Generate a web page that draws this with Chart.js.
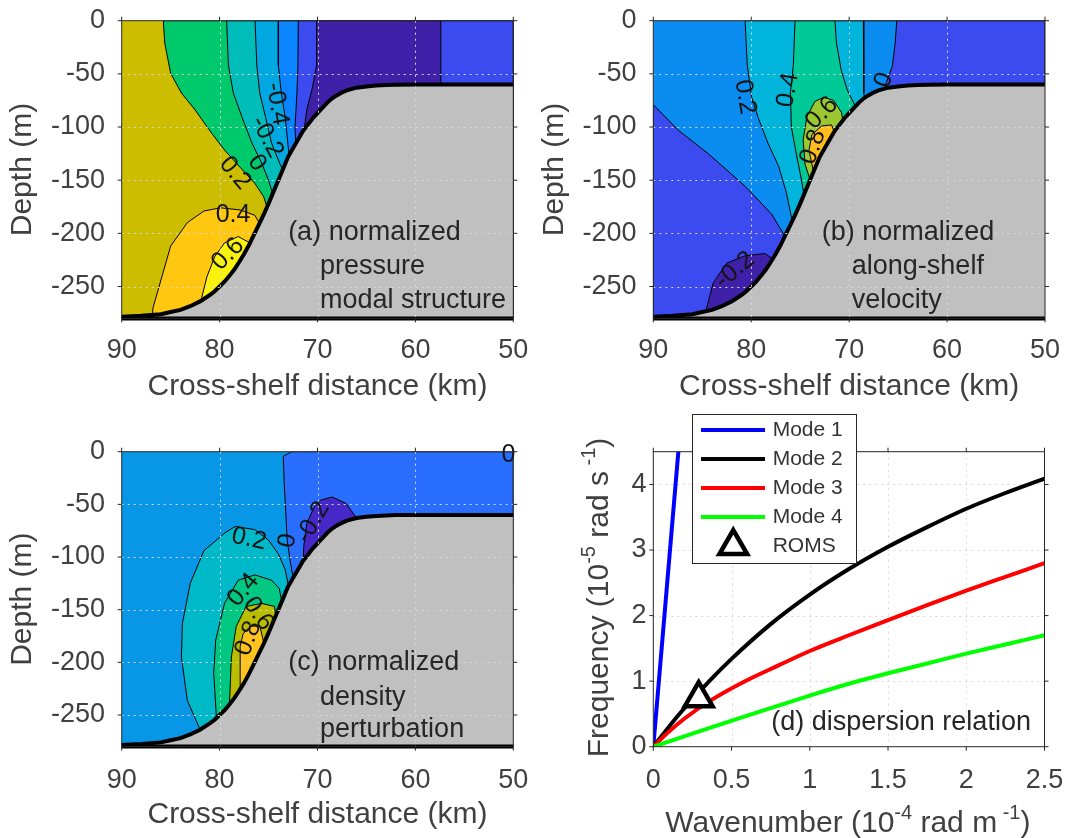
<!DOCTYPE html>
<html>
<head>
<meta charset="utf-8">
<title>Shelf wave modal structure</title>
<script src="https://cdn.jsdelivr.net/npm/chart.js@4.4.1/dist/chart.umd.min.js"></script>
<style>
  html, body { margin: 0; padding: 0; background: #ffffff; }
  #figure { position: relative; width: 1065px; height: 838px; overflow: hidden; }
  #figure canvas { position: absolute; }
</style>
</head>
<body>
<div id="figure">
  <canvas id="pressureChart" width="530" height="415" style="left:0;top:0"></canvas>
  <canvas id="velocityChart" width="535" height="415" style="left:530px;top:0"></canvas>
  <canvas id="densityChart" width="530" height="438" style="left:0;top:400px"></canvas>
  <canvas id="dispersionChart" width="535" height="438" style="left:530px;top:400px"></canvas>
</div>
<script>
// ---- axis ticks ----
const distTicks = [90, 80, 70, 60, 50];
const depthTicks = [0, -50, -100, -150, -200, -250];
const waveTicks = [0, 0.5, 1, 1.5, 2, 2.5];
const freqTicks = [0, 1, 2, 3, 4];

// ---- bathymetry, km offshore vs depth (m) ----
const shelfKm = [90, 88, 86, 85, 84, 83, 82, 81, 80.5, 80, 79.5, 79, 78.5, 78, 77.5, 77, 76.5, 76, 75.5, 75,
  74.5, 74, 73.5, 73, 72.5, 72, 71.5, 71, 70.5, 70, 69.5, 69, 68.5, 68, 67.5, 67, 66, 65, 64, 63, 62, 60, 50];
const shelfDepth = [-278.5, -277.5, -276, -274, -272, -268.5, -264, -258, -254.5, -250, -245.5, -240, -234, -227,
  -219.5, -211, -201.5, -192, -182.5, -172, -161, -150, -139, -128, -120, -112, -104, -98, -92, -87, -82, -77,
  -73, -70, -67.5, -65.5, -63, -61.8, -61, -60.5, -60.2, -60, -60];
const bottomKm = [90, 50];
const bottomDepth = [-280, -280];

// ---- (a) pressure: filled contour outlines [km, depth] ----
const pressOlive = [[90, 0], [50, 0], [50, -280], [90, -280]];
const pressGreen = [[85.75, 0], [85.6, -21], [85.0, -49.5], [83.9, -68], [82.5, -84], [80.8, -106], [79.5, -121.6],
  [77.7, -140], [76.4, -153], [75.5, -165.5], [75.0, -180], [74.5, -195], [50, -280], [50, 0]];
const pressTeal = [[79.28, 0], [79.1, -42], [78.6, -68], [77.7, -91], [76.7, -115], [75.7, -134], [75.0, -150],
  [74.5, -165], [74.0, -178], [50, -280], [50, 0]];
const pressSky = [[76.38, 0], [76.2, -42], [75.9, -68], [75.3, -91], [74.7, -115], [74.0, -131], [73.5, -142],
  [73.0, -160], [50, -280], [50, 0]];
const pressBlue = [[74.0, 0], [74.0, -42], [73.7, -68], [73.3, -91], [73.0, -118], [72.8, -135], [50, -280], [50, 0]];
const pressViolet = [[71.96, 0], [72.0, -42], [72.1, -68], [72.3, -100], [72.2, -120], [50, -280], [50, 0]];
const pressPurple = [[70.1, 0], [70.1, -42], [70.5, -62], [71.1, -84], [71.3, -98], [71.2, -115], [57.4, -115], [57.4, 0]];
const pressOrange = [[86.9, -280], [86.8, -270], [85.9, -241], [85.0, -212], [83.3, -190], [81.6, -179], [79.9, -176],
  [77.9, -178], [76.4, -183], [75.6, -196], [78.0, -245], [80, -280]];
const pressYellow = [[82.0, -267], [81.3, -241], [80.5, -222], [79.5, -209], [78.1, -203], [76.9, -209], [76.5, -222],
  [78.5, -250], [80.5, -266]];

// ---- (b) along-shelf velocity ----
const velBase = [[90, 0], [50, 0], [50, -280], [90, -280]];
const velDeep = [[90, -79], [87.45, -103], [84.4, -125], [80.6, -156], [77.9, -182], [76.75, -200], [76.0, -215],
  [80, -280], [90, -280]];
const velCyan = [[80.63, 0], [80.4, -42], [79.95, -72], [79.3, -91], [78.3, -115], [77.2, -137], [76.4, -162],
  [76.0, -180], [75.6, -200], [50, -280], [50, 0]];
const velGreen = [[75.53, 0], [75.7, -42], [76.0, -68], [75.9, -100], [75.4, -125], [74.8, -153], [74.5, -172],
  [69.0, -95], [69.5, -78], [70.2, -65], [70.8, -47], [71.3, -21], [71.45, 0]];
const velShelfBlue = [[68.55, 0], [68.5, -40], [68.5, -68], [68.3, -85], [50, -85], [50, 0]];
const velShelfViolet = [[65.14, 0], [65.3, -21], [65.6, -43], [66.2, -58], [66.7, -72], [50, -72], [50, 0]];
const velLime = [[73.8, -155], [74.5, -135], [74.7, -112], [74.3, -90], [73.5, -76], [72.6, -72], [71.6, -75],
  [70.8, -86], [70.5, -100]];
const velOrange = [[73.5, -148], [74.1, -122], [73.8, -107], [72.8, -99], [71.8, -98], [71.3, -110]];
const velPurple = [[85.0, -280], [84.6, -272], [83.9, -247], [82.5, -228], [80.6, -221], [78.6, -219], [77.5, -226],
  [80, -262]];

// ---- (c) density perturbation ----
const densBase = [[90, 0], [50, 0], [50, -280], [90, -280]];
const densShelf = [[72.64, 0], [73.5, -4.4], [73.4, -30], [73.3, -47], [73.1, -84], [72.8, -103], [72.4, -125],
  [50, -125], [50, 0]];
const densPurple = [[71.5, -112], [71.4, -90], [71.1, -68], [70.3, -52], [69.7, -46], [68.5, -43], [67.1, -49],
  [66.0, -63], [65.5, -70]];
const densTeal = [[81.8, -268], [83.3, -236], [83.9, -195], [83.8, -163], [83.0, -125], [81.6, -94], [79.45, -77],
  [78.4, -71], [76.4, -74], [75.0, -84], [74.0, -97], [73.3, -112], [73.0, -126], [72.8, -140], [77.0, -230], [79.5, -255]];
const densGreen = [[80.3, -256], [80.6, -210], [80.4, -179], [79.5, -144], [78.1, -122], [76.4, -117], [74.7, -122],
  [73.9, -130], [73.6, -145], [77.0, -225], [79.3, -250]];
const densOlive = [[79.0, -243], [78.8, -195], [78.3, -166], [77.3, -147], [75.7, -144], [74.4, -147], [74.2, -160],
  [77.0, -222]];
const densOrange = [[77.9, -232], [77.9, -185], [77.6, -173], [76.9, -166], [75.9, -165], [75.4, -185], [76.6, -212]];

// ---- (d) dispersion curves, 1e-4 rad/m vs 1e-5 rad/s ----
const k1 = [0, 0.18];
const f1 = [0, 5.06];
const k2 = [0, 0.16, 0.37, 0.5, 0.75, 1.0, 1.25, 1.5, 1.75, 2.0, 2.25, 2.5];
const f2 = [0, 0.48, 1.03, 1.34, 1.87, 2.32, 2.71, 3.05, 3.35, 3.63, 3.87, 4.09];
const k3 = [0, 0.1, 0.2, 0.37, 0.58, 0.8, 1.0, 1.25, 1.5, 1.75, 2.0, 2.25, 2.5];
const f3 = [0, 0.23, 0.43, 0.71, 0.99, 1.24, 1.46, 1.70, 1.93, 2.16, 2.38, 2.59, 2.80];
const k4 = [0, 0.25, 0.58, 1.0, 1.25, 1.5, 1.75, 2.0, 2.25, 2.5];
const f4 = [0, 0.2, 0.46, 0.78, 0.96, 1.12, 1.27, 1.42, 1.56, 1.70];
const kRoms = [0.29];
const fRoms = [0.74];

// ---- styling ----
const FONT = "'Liberation Sans', Arial, Helvetica, sans-serif";
const AXIS_TEXT = '#404040';
const NOTE_TEXT = '#262626';
const GRID_COLOR = '#d9d9d9';
const FRAME_COLOR = '#262626';
const SEABED = '#c0c0c0';

Chart.defaults.font.family = FONT;

function toXY(pts) {
    return pts.map(p => ({ x: p[0], y: p[1] }));
}

function region(pts, color, edge) {
    return {
        data: toXY(pts.concat([pts[0]])),
        showLine: true,
        fill: 'shape',
        backgroundColor: color,
        borderColor: '#000000',
        borderWidth: edge,
        pointRadius: 0,
        clip: 0
    };
}

function drawGrid(chart) {
    const { ctx, chartArea: a, scales } = chart;
    ctx.save();
    ctx.strokeStyle = GRID_COLOR;
    ctx.lineWidth = 1;
    ctx.setLineDash([2, 4]);
    ctx.beginPath();
    for (const t of scales.x.ticks) {
        const px = Math.round(scales.x.getPixelForValue(t.value)) + 0.5;
        if (px <= a.left + 1 || px >= a.right - 1) continue;
        ctx.moveTo(px, a.top);
        ctx.lineTo(px, a.bottom);
    }
    for (const t of scales.y.ticks) {
        const py = Math.round(scales.y.getPixelForValue(t.value)) + 0.5;
        if (py <= a.top + 1 || py >= a.bottom - 1) continue;
        ctx.moveTo(a.left, py);
        ctx.lineTo(a.right, py);
    }
    ctx.stroke();
    ctx.restore();
}

function drawFrame(chart) {
    const { ctx, chartArea: a, scales } = chart;
    const tl = 4;
    ctx.save();
    ctx.strokeStyle = FRAME_COLOR;
    ctx.lineWidth = 1;
    ctx.strokeRect(a.left, a.top, a.right - a.left, a.bottom - a.top);
    ctx.beginPath();
    for (const t of scales.x.ticks) {
        const px = scales.x.getPixelForValue(t.value);
        ctx.moveTo(px, a.bottom); ctx.lineTo(px, a.bottom + tl);
        ctx.moveTo(px, a.top); ctx.lineTo(px, a.top - tl);
    }
    for (const t of scales.y.ticks) {
        const py = scales.y.getPixelForValue(t.value);
        ctx.moveTo(a.left - tl, py); ctx.lineTo(a.left, py);
        ctx.moveTo(a.right, py); ctx.lineTo(a.right + tl, py);
    }
    ctx.stroke();
    ctx.restore();
}

function drawTexts(chart, items, font, color, align, baseline) {
    const { ctx, scales: { x, y } } = chart;
    ctx.save();
    ctx.font = font;
    ctx.fillStyle = color;
    ctx.textAlign = align;
    ctx.textBaseline = baseline;
    for (const it of items) {
        ctx.save();
        ctx.translate(x.getPixelForValue(it.x), y.getPixelForValue(it.y));
        ctx.rotate((it.rot || 0) * Math.PI / 180);
        ctx.fillText(it.text, 0, 0);
        ctx.restore();
    }
    ctx.restore();
}

// grid, contour labels, panel notes and the axes box
const framePlugin = {
    id: 'frame',
    beforeDatasetsDraw(chart, args, opts) {
        if (!opts.gridOnTop) drawGrid(chart);
    },
    afterDatasetsDraw(chart, args, opts) {
        if (opts.gridOnTop) drawGrid(chart);
        drawTexts(chart, opts.labels || [], '25px ' + FONT, '#141414', 'center', 'middle');
        drawTexts(chart, opts.notes || [], '27px ' + FONT, NOTE_TEXT, 'left', 'alphabetic');
        drawFrame(chart);
    }
};

function linearAxis(o) {
    return {
        type: 'linear',
        min: o.min,
        max: o.max,
        reverse: !!o.reverse,
        afterBuildTicks: s => { s.ticks = o.ticks.map(v => ({ value: v })); },
        afterFit: s => {
            if (s.isHorizontal()) s.height = o.size; else s.width = o.size;
            s.paddingLeft = s.paddingRight = s.paddingTop = s.paddingBottom = 0;
        },
        grid: { display: false, drawTicks: false },
        border: { display: false },
        ticks: {
            autoSkip: false, maxRotation: 0, minRotation: 0, padding: o.tickPad,
            color: AXIS_TEXT, font: { family: FONT, size: 27 },
            callback: v => String(v)
        },
        title: o.title
            ? { display: true, text: o.title, color: AXIS_TEXT, font: { family: FONT, size: 30 }, padding: o.titlePad }
            : { display: false }
    };
}

function sectionChart(canvasId, layers, geom, labels, notes) {
    const seabed = shelfKm.map((x, i) => [x, shelfDepth[i]]);
    const datasets = layers.map(([pts, color], i) => region(pts, color, i === 0 ? 0 : 1));
    datasets.push(region(seabed.concat([[50, -280], [90, -280]]), SEABED, 0));
    datasets.push({
        data: toXY(seabed), showLine: true, fill: false, borderColor: '#000000',
        borderWidth: 4, pointRadius: 0, clip: 3
    });
    datasets.push({
        data: toXY(bottomKm.map((x, i) => [x, bottomDepth[i]])), showLine: true, fill: false,
        borderColor: '#000000', borderWidth: 4, pointRadius: 0, clip: 3
    });
    // first dataset is painted last by Chart.js, so invert the order
    datasets.forEach((d, i) => { d.order = datasets.length - i; });

    return new Chart(document.getElementById(canvasId), {
        type: 'scatter',
        data: { datasets },
        options: {
            responsive: false,
            animation: false,
            events: [],
            layout: { padding: { left: 0, top: geom.top, right: geom.padRight, bottom: 0 } },
            plugins: {
                legend: { display: false },
                tooltip: { enabled: false },
                frame: { gridOnTop: true, labels, notes }
            },
            scales: {
                x: linearAxis({ min: 50, max: 90, reverse: true, ticks: distTicks, size: geom.xSize,
                    tickPad: geom.xTickPad, title: 'Cross-shelf distance (km)', titlePad: { top: 0, bottom: geom.xTitlePad } }),
                y: linearAxis({ min: -280, max: 0, ticks: depthTicks, size: geom.ySize,
                    tickPad: 16.7, title: 'Depth (m)', titlePad: { top: geom.yTitlePad, bottom: 0 } })
            }
        },
        plugins: [framePlugin]
    });
}

sectionChart('pressureChart', [
    [pressOlive, '#cdbd00'], [pressGreen, '#00c96c'], [pressTeal, '#00bdb9'], [pressSky, '#00a7e0'],
    [pressBlue, '#0a84ff'], [pressViolet, '#3c4bef'], [pressPurple, '#3f20a8'],
    [pressOrange, '#ffc70f'], [pressYellow, '#f8f20c']
], { top: 20.7, padRight: 16.7, xSize: 96.6, ySize: 121.7, xTickPad: 16.4, xTitlePad: 10.4, yTitlePad: 5 }, [
    { text: '-0.4', x: 74.14, y: -78.4, rot: 80 },
    { text: '-0.2', x: 75.16, y: -109.4, rot: 62 },
    { text: '0', x: 76.18, y: -133.9, rot: 55 },
    { text: '0.2', x: 78.43, y: -143.3, rot: 50 },
    { text: '0.4', x: 78.63, y: -182.8, rot: 0 },
    { text: '0.6', x: 79.14, y: -219.5, rot: -45 }
], [
    { text: '(a) normalized', x: 73.0, y: -206.4 },
    { text: 'pressure', x: 69.74, y: -238.3 },
    { text: 'modal structure', x: 69.74, y: -270.3 }
]);

sectionChart('velocityChart', [
    [velBase, '#0a8cf0'], [velDeep, '#3c4bef'], [velCyan, '#00b4dc'], [velGreen, '#00c896'],
    [velShelfBlue, '#0a8cf0'], [velShelfViolet, '#3c4bef'], [velLime, '#9bc832'],
    [velOrange, '#ffbe1e'], [velPurple, '#3f20a8']
], { top: 20.7, padRight: 20, xSize: 96.6, ySize: 123.3, xTickPad: 16.4, xTitlePad: 10.4, yTitlePad: 6.6 }, [
    { text: '0.2', x: 80.63, y: -71.8, rot: 80 },
    { text: '0.4', x: 76.24, y: -65.2, rot: -80 },
    { text: '0.6', x: 72.8, y: -86.8, rot: -45 },
    { text: '0.8', x: 73.7, y: -118.8, rot: -70 },
    { text: '0', x: 66.45, y: -55.8, rot: -70 },
    { text: '-0.2', x: 81.66, y: -234.5, rot: -40 }
], [
    { text: '(b) normalized', x: 72.8, y: -206.4 },
    { text: 'along-shelf', x: 69.73, y: -238.3 },
    { text: 'velocity', x: 69.73, y: -270.3 }
]);

sectionChart('densityChart', [
    [densBase, '#0896e6'], [densShelf, '#2a6eff'], [densPurple, '#4628c8'], [densTeal, '#00b9c8'],
    [densGreen, '#00c882'], [densOlive, '#b9be00'], [densOrange, '#ffc31e']
], { top: 51.7, padRight: 16.7, xSize: 91.4, ySize: 121.7, xTickPad: 17.7, xTitlePad: 5.2, yTitlePad: 5 }, [
    { text: '0.2', x: 77.0, y: -82.9, rot: 12 },
    { text: '0', x: 73.04, y: -84.5, rot: -80 },
    { text: '-0.2', x: 70.46, y: -67, rot: -60 },
    { text: '0.4', x: 77.58, y: -131.3, rot: -50 },
    { text: '0.6', x: 76.05, y: -153.9, rot: 55 },
    { text: '0.8', x: 77.07, y: -177.2, rot: -70 },
    { text: '0', x: 50.49, y: -3.1, rot: 0 }
], [
    { text: '(c) normalized', x: 72.98, y: -207.3 },
    { text: 'density', x: 69.74, y: -240.6 },
    { text: 'perturbation', x: 69.74, y: -270.7 }
]);

// ---- (d) dispersion relation ----
const TITLE_FONT = '30px ' + FONT;
const SUP_FONT = '20px ' + FONT;

function drawRich(ctx, parts, cx, baseY, angle) {
    ctx.save();
    ctx.translate(cx, baseY);
    ctx.rotate(angle);
    ctx.fillStyle = AXIS_TEXT;
    ctx.textBaseline = 'alphabetic';
    ctx.textAlign = 'left';
    const widths = parts.map(p => { ctx.font = p.sup ? SUP_FONT : TITLE_FONT; return ctx.measureText(p.text).width; });
    let x = -widths.reduce((s, w) => s + w, 0) / 2;
    parts.forEach((p, i) => {
        ctx.font = p.sup ? SUP_FONT : TITLE_FONT;
        ctx.fillText(p.text, x, p.sup ? -13 : 0);
        x += widths[i];
    });
    ctx.restore();
}

const dispersionDecor = {
    id: 'dispersionDecor',
    afterDraw(chart) {
        const { ctx, chartArea: a } = chart;
        drawRich(ctx, [{ text: 'Wavenumber (10' }, { text: '-4', sup: true }, { text: ' rad m' },
            { text: ' -1', sup: true }, { text: ')' }], (a.left + a.right) / 2 - 1, 432, 0);
        drawRich(ctx, [{ text: 'Frequency (10' }, { text: '-5', sup: true }, { text: ' rad s' },
            { text: ' -1', sup: true }, { text: ')' }], 78.3, 197.5, -Math.PI / 2);

        // legend box
        ctx.save();
        ctx.fillStyle = '#ffffff';
        ctx.fillRect(162.5, 14, 164, 149);
        ctx.strokeStyle = FRAME_COLOR;
        ctx.lineWidth = 1;
        ctx.strokeRect(162.5, 14.5, 164, 149);
        ctx.font = '21px ' + FONT;
        ctx.textBaseline = 'middle';
        ctx.textAlign = 'left';
        chart.data.datasets.forEach((ds, i) => {
            const rowY = 30 + 29 * i;
            if (ds.showLine) {
                ctx.strokeStyle = ds.borderColor;
                ctx.lineWidth = 4;
                ctx.beginPath();
                ctx.moveTo(171, rowY);
                ctx.lineTo(235, rowY);
                ctx.stroke();
            } else {
                const r = ds.pointRadius, cx = 203.3;
                ctx.beginPath();
                for (let j = 0; j < 3; j++) {
                    const ang = j * 2 * Math.PI / 3;
                    const px = cx + Math.sin(ang) * r, py = rowY - Math.cos(ang) * r;
                    if (j === 0) ctx.moveTo(px, py); else ctx.lineTo(px, py);
                }
                ctx.closePath();
                ctx.fillStyle = ds.pointBackgroundColor;
                ctx.fill();
                ctx.strokeStyle = ds.pointBorderColor;
                ctx.lineWidth = ds.pointBorderWidth;
                ctx.stroke();
            }
            ctx.fillStyle = '#333333';
            ctx.fillText(ds.label, 242.7, rowY);
        });
        ctx.restore();
    }
};

function modeLine(label, ks, fs, color, order, smooth) {
    return {
        label,
        data: ks.map((k, i) => ({ x: k, y: fs[i] })),
        showLine: true,
        borderColor: color,
        borderWidth: 4,
        pointRadius: 0,
        fill: false,
        cubicInterpolationMode: smooth ? 'monotone' : 'default',
        clip: 0,
        order
    };
}

new Chart(document.getElementById('dispersionChart'), {
    type: 'scatter',
    data: {
        datasets: [
            modeLine('Mode 1', k1, f1, '#0000ff', 4, false),
            modeLine('Mode 2', k2, f2, '#000000', 3, true),
            modeLine('Mode 3', k3, f3, '#ff0000', 2, true),
            modeLine('Mode 4', k4, f4, '#00ff00', 1, true),
            {
                label: 'ROMS',
                data: kRoms.map((k, i) => ({ x: k, y: fRoms[i] })),
                showLine: false,
                pointStyle: 'triangle',
                pointRadius: 16,
                pointBorderWidth: 4.5,
                pointBorderColor: '#000000',
                pointBackgroundColor: '#ffffff',
                clip: false,
                order: 0
            }
        ]
    },
    options: {
        responsive: false,
        animation: false,
        events: [],
        layout: { padding: { left: 0, top: 51.7, right: 19.3, bottom: 0 } },
        plugins: {
            legend: { display: false },
            tooltip: { enabled: false },
            frame: { gridOnTop: false, labels: [], notes: [{ text: '(d) dispersion relation', x: 0.754, y: 0.25 }] }
        },
        scales: {
            x: linearAxis({ min: 0, max: 2.5, ticks: waveTicks, size: 91.3, tickPad: 18 }),
            y: linearAxis({ min: 0, max: 4.5, ticks: freqTicks, size: 123.3, tickPad: 6.7 })
        }
    },
    plugins: [framePlugin, dispersionDecor]
});
</script>
</body>
</html>
